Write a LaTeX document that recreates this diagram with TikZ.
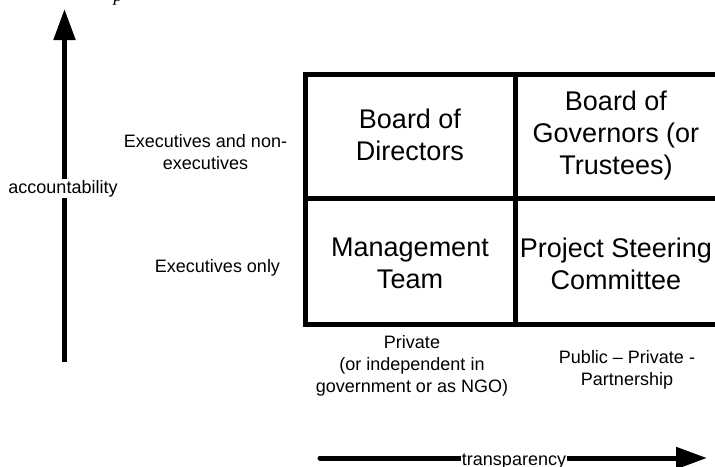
\documentclass[tikz,border=0pt]{standalone}
\usepackage{fontspec}
\setmainfont{Liberation Sans}
\newfontfamily\capfont{Liberation Serif}
\usetikzlibrary{arrows.meta}
\begin{document}
\begin{tikzpicture}[x=1pt,y=-1pt,
  gridline/.style={line width=5pt},
  cell/.style={font=\fontsize{27}{32}\selectfont, align=center, inner sep=0pt},
  lab/.style={font=\fontsize{18}{22}\selectfont, align=center, inner sep=0pt},
  axis/.style={line width=5pt, -{Triangle[width=21pt,length=31pt]}},
  knock/.style={fill=white, inner sep=1pt, font=\fontsize{18}{22}\selectfont}]
\useasboundingbox (0,0) rectangle (715,466);
\clip (0,0) rectangle (715,466);
% cut-off caption fragment
\node[anchor=base, inner sep=0pt, font=\capfont\itshape\fontsize{18}{22}\selectfont] (cap) at (118,1) {p};
% grid
\draw[gridline] (305,74) rectangle (730,324);
\draw[gridline] (305,198.5) -- (730,198.5);
\draw[gridline] (515,74) -- (515,324);
% cells
\node[cell] (bod) at (410,134.5) {Board of\\Directors};
\node[cell] (bog) at (616,136) {Board of\\Governors (or\\Trustees)};
\node[cell] (mt) at (410,263.5) {Management\\Team};
\node[cell] (psc) at (616,263.5) {Project Steering\\Committee};
% side labels
\node[lab] (ex1) at (205.5,152) {\mbox{Executives and non-}\\executives};
\node[lab] (ex2) at (217.5,267.5) {Executives only};
\node[lab] (priv) at (412,365.5) {Private\\(or independent in\\government or as NGO)};
\node[lab, anchor=base] (ppp1) at (627,363) {Public \textendash{} Private -};
\node[lab, anchor=base] (ppp2) at (627,385) {Partnership};
% axes
\coordinate (vb) at (64.5,362);
\coordinate (vt) at (64.5,9);
\draw[axis] (vb) -- (vt);
\node[knock, anchor=base] (acc) at (63,193) {accountability};
\coordinate (hb) at (320,458);
\coordinate (ht) at (707,458);
\draw[axis, line cap=round] (hb) -- (ht);
\node[knock, anchor=base] (tr) at (514,465) {transparency};
\end{tikzpicture}
\end{document}
